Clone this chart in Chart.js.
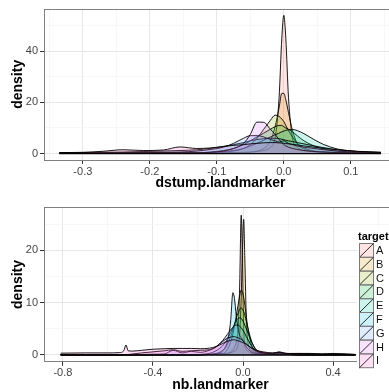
<!DOCTYPE html>
<html>
<head>
<meta charset="utf-8">
<script src="https://cdn.jsdelivr.net/npm/chart.js@4.4.1/dist/chart.umd.min.js"></script>
<style>
body { margin: 0; width: 389px; height: 392px; overflow: hidden; background: #fff; }
canvas { position: absolute; left: 0; }
#top { top: 0; }
#bottom { top: 195px; }
</style>
</head>
<body>
<canvas id="top" width="397" height="195"></canvas>
<canvas id="bottom" width="397" height="197"></canvas>
<script>
var targets = ['A', 'B', 'C', 'D', 'E', 'F', 'G', 'H', 'I'];
var colori = ['#F8766D', '#D39200', '#93AA00', '#00BA38', '#00C19F', '#00B9E3', '#619CFF', '#DB72FB', '#FF61C3'];

// pannello sopra: dstump.landmarker
var xDstump = [-0.335, -0.3, -0.27, -0.24, -0.21, -0.18, -0.155, -0.13, -0.11, -0.09, -0.075, -0.06, -0.05, -0.04, -0.03, -0.02, -0.013, -0.007, -0.003, 0, 0.003, 0.007, 0.013, 0.02, 0.03, 0.045, 0.06, 0.08, 0.11, 0.145];
var dstumpA = [0.1, 0.1, 0.1, 0.15, 0.15, 0.2, 0.2, 0.2, 0.25, 0.3, 0.35, 0.4, 0.5, 0.8, 1.2, 2.5, 6, 22, 45, 54, 45, 22, 6, 2.5, 1.2, 0.7, 0.4, 0.3, 0.2, 0.1];
var dstumpB = [0.1, 0.1, 0.15, 0.2, 0.2, 0.2, 0.25, 0.3, 0.3, 0.35, 0.4, 0.5, 0.6, 1, 2, 5, 10.5, 18, 23.5, 23.5, 21, 16, 9, 4, 1.8, 0.9, 0.6, 0.4, 0.3, 0.2];
var dstumpC = [0.1, 0.1, 0.1, 0.1, 0.15, 0.2, 0.2, 0.25, 0.35, 0.5, 1, 2, 3.5, 6, 9.5, 13, 15, 14.5, 13.5, 12.5, 11, 9, 6.5, 4, 2.2, 1, 0.6, 0.3, 0.2, 0.1];
var dstumpD = [0.1, 0.1, 0.1, 0.15, 0.15, 0.2, 0.25, 0.3, 0.6, 1.2, 2, 3.5, 5, 6.5, 8, 9.5, 10.5, 11, 11, 10.5, 10, 9.5, 8.5, 7, 5, 3, 1.8, 0.9, 0.4, 0.2];
var dstumpE = [0.1, 0.1, 0.1, 0.15, 0.15, 0.2, 0.25, 0.3, 0.4, 0.8, 1.2, 2, 3, 4, 5.2, 6.5, 7.3, 8, 8.5, 8.8, 9.1, 9.3, 9.4, 9, 7.8, 5.5, 3.5, 1.8, 0.8, 0.4];
var dstumpF = [0.3, 0.4, 0.5, 0.6, 0.8, 1, 1.2, 1.5, 2, 2.8, 3.5, 4.3, 5, 5.5, 5.8, 6, 6, 5.8, 5.6, 5.4, 5.2, 5, 4.7, 4.3, 3.8, 3, 2.3, 1.5, 0.8, 0.5];
var dstumpG = [0.2, 0.2, 0.3, 0.3, 0.4, 0.5, 0.6, 1, 1.6, 2.5, 4, 6, 7, 7, 6.5, 5.5, 5, 4.5, 4.8, 5, 4.6, 4, 3.5, 3, 2.5, 2, 1.5, 1, 0.6, 0.3];
var dstumpH = [0.1, 0.1, 0.1, 0.15, 0.15, 0.2, 0.25, 0.3, 0.5, 1, 2, 4, 7.5, 12.3, 12.2, 9.5, 7.5, 5.5, 4.3, 3.5, 3, 2.5, 2, 1.6, 1.2, 0.8, 0.6, 0.4, 0.3, 0.2];
var dstumpI = [0.4, 0.5, 0.9, 1.5, 1.2, 1.4, 2.6, 2, 2.2, 2.8, 3.2, 3.5, 3.8, 4, 4.2, 4.3, 4.3, 4.2, 4.1, 4, 3.9, 3.8, 3.6, 3.4, 3, 2.5, 2, 1.5, 0.9, 0.5];
var dstumpMajorX = [-0.3, -0.2, -0.1, 0, 0.1];
var dstumpMinorX = [-0.35, -0.25, -0.15, -0.05, 0.05, 0.15];
var dstumpMajorY = [0, 20, 40];
var dstumpMinorY = [10, 30, 50];

// pannello sotto: nb.landmarker
var xNb = [-0.81, -0.7, -0.6, -0.55, -0.53, -0.52, -0.51, -0.49, -0.45, -0.4, -0.35, -0.31, -0.27, -0.23, -0.19, -0.15, -0.12, -0.09, -0.07, -0.055, -0.045, -0.038, -0.03, -0.022, -0.015, -0.008, -0.003, 0.003, 0.008, 0.015, 0.025, 0.04, 0.06, 0.09, 0.13, 0.16, 0.2, 0.25, 0.3, 0.35, 0.4, 0.46, 0.5];
var nbA = [0.05, 0.05, 0.05, 0.05, 0.05, 0.05, 0.05, 0.05, 0.05, 0.05, 0.05, 0.05, 0.05, 0.05, 0.05, 0.1, 0.1, 0.2, 0.3, 0.6, 1, 1.5, 2.5, 5, 13, 26.7, 19, 5, 2, 1, 0.6, 0.3, 0.2, 0.1, 0.1, 0.1, 0.1, 0.05, 0.05, 0.05, 0.05, 0.05, 0.05];
var nbB = [0.05, 0.05, 0.05, 0.05, 0.05, 0.05, 0.05, 0.05, 0.05, 0.05, 0.05, 0.05, 0.05, 0.05, 0.05, 0.1, 0.1, 0.2, 0.3, 0.4, 0.6, 0.8, 1, 2, 4, 11, 19.5, 25.9, 18.5, 6.5, 1.8, 0.8, 0.4, 0.2, 0.1, 0.2, 0.1, 0.05, 0.05, 0.05, 0.05, 0.05, 0.05];
var nbC = [0.05, 0.05, 0.05, 0.05, 0.05, 0.05, 0.05, 0.05, 0.05, 0.05, 0.05, 0.05, 0.05, 0.05, 0.05, 0.1, 0.2, 0.3, 1, 2.5, 4, 5.5, 7.5, 9.5, 11.3, 12.4, 12.1, 11, 9.5, 7.2, 4.2, 1.6, 0.5, 0.2, 0.1, 0.1, 0.1, 0.05, 0.05, 0.05, 0.05, 0.05, 0.05];
var nbD = [0.05, 0.05, 0.05, 0.05, 0.05, 0.05, 0.05, 0.05, 0.05, 0.05, 0.05, 0.05, 0.05, 0.05, 0.1, 0.15, 0.3, 0.9, 2, 3.5, 4.8, 5.8, 7, 8, 8.7, 9, 8.8, 8.3, 7.6, 6.4, 4.6, 2.4, 0.9, 0.3, 0.2, 0.2, 0.1, 0.05, 0.05, 0.05, 0.05, 0.05, 0.05];
var nbE = [0.05, 0.05, 0.05, 0.05, 0.05, 0.05, 0.05, 0.05, 0.05, 0.05, 0.05, 0.05, 0.05, 0.05, 0.1, 0.3, 0.8, 1.8, 3, 4.3, 5.2, 5.9, 6.5, 7, 7.1, 7, 6.7, 6.2, 5.7, 5, 3.9, 2.3, 1, 0.4, 0.2, 0.2, 0.1, 0.05, 0.05, 0.05, 0.05, 0.05, 0.05];
var nbF = [0.05, 0.05, 0.05, 0.05, 0.05, 0.05, 0.05, 0.05, 0.05, 0.05, 0.05, 0.05, 0.05, 0.05, 0.05, 0.1, 0.2, 0.8, 2.5, 6.5, 11.9, 10.8, 7.5, 5, 3.8, 3.3, 3, 2.5, 2, 1.5, 1, 0.5, 0.3, 0.2, 0.1, 0.1, 0.1, 0.05, 0.05, 0.05, 0.05, 0.05, 0.05];
var nbG = [0.05, 0.05, 0.05, 0.05, 0.05, 0.05, 0.05, 0.05, 0.1, 0.15, 0.2, 0.9, 0.4, 0.7, 0.5, 0.9, 1.5, 2.8, 3.9, 4.8, 5.3, 5.6, 5.7, 5.7, 5.5, 5.2, 4.9, 4.5, 4.1, 3.5, 2.7, 1.6, 0.8, 0.4, 0.3, 0.6, 0.2, 0.3, 0.3, 0.2, 0.3, 0.2, 0.1];
var nbH = [0.05, 0.05, 0.05, 0.05, 0.05, 0.05, 0.1, 0.2, 0.4, 0.6, 0.8, 1, 0.7, 0.8, 0.9, 1, 1.6, 2.6, 3.2, 3.4, 3.5, 3.5, 3.4, 3.3, 3.1, 3, 2.8, 2.6, 2.4, 2.1, 1.7, 1.2, 0.7, 0.4, 0.3, 0.4, 0.2, 0.2, 0.2, 0.1, 0.1, 0.1, 0.05];
var nbI = [0.35, 0.4, 0.4, 0.45, 0.8, 1.9, 0.8, 0.75, 0.9, 1.1, 1.2, 1.25, 1.25, 1.25, 1.2, 1.3, 1.6, 2.2, 2.6, 2.8, 2.9, 2.9, 2.8, 2.7, 2.6, 2.5, 2.4, 2.3, 2.2, 2, 1.7, 1.3, 0.9, 0.6, 0.4, 0.5, 0.3, 0.3, 0.2, 0.2, 0.2, 0.15, 0.1];
var nbMajorX = [-0.8, -0.4, 0, 0.4];
var nbMinorX = [-0.6, -0.2, 0.2, 0.6];
var nbMajorY = [0, 10, 20];
var nbMinorY = [5, 15, 25];

var FONT = 'Liberation Sans, Arial, sans-serif';

function trasparente(hex, a) {
    var r = parseInt(hex.substr(1, 2), 16);
    var g = parseInt(hex.substr(3, 2), 16);
    var b = parseInt(hex.substr(5, 2), 16);
    return 'rgba(' + r + ',' + g + ',' + b + ',' + a + ')';
}

function listaTick(major, minor) {
    return major.concat(minor).sort(function (a, b) { return a - b; }).map(function (v) { return {value: v}; });
}

function assi(major, minor) {
    return {
        color: function (c) { return c.tick && major.indexOf(c.tick.value) >= 0 ? '#e6e6e6' : '#f4f4f4'; },
        lineWidth: function (c) { return c.tick && major.indexOf(c.tick.value) >= 0 ? 1 : 0.7; },
        tickColor: function (c) { return c.tick && major.indexOf(c.tick.value) >= 0 ? '#333' : 'rgba(0,0,0,0)'; },
        tickLength: 4
    };
}

// bordo del pannello, linea di base e legenda
var decorazioni = {
    id: 'decorazioni',
    afterDatasetsDraw: function (chart) {
        var ctx = chart.ctx;
        var y0 = chart.scales.y.getPixelForValue(0);
        var meta = chart.getDatasetMeta(0);
        var pts = meta.data;
        ctx.save();
        ctx.strokeStyle = '#000';
        ctx.lineWidth = 1.3;
        ctx.beginPath();
        ctx.moveTo(pts[0].x, y0);
        ctx.lineTo(pts[pts.length - 1].x, y0);
        ctx.stroke();
        ctx.restore();
    },
    afterDraw: function (chart, args, opts) {
        var ctx = chart.ctx;
        var a = chart.chartArea;
        ctx.save();
        ctx.strokeStyle = '#808080';
        ctx.lineWidth = 1;
        ctx.strokeRect(Math.round(a.left) + 0.5, Math.round(a.top) + 0.5, Math.round(a.right - a.left), Math.round(a.bottom - a.top));

        if (opts.legenda) {
            ctx.fillStyle = '#fff';
            ctx.fillRect(357, 33, 40, 142);
            ctx.fillStyle = '#000';
            ctx.font = 'bold 11px ' + FONT;
            ctx.textBaseline = 'middle';
            ctx.textAlign = 'left';
            ctx.fillText('target', 358, 42);
            var h = 13.8;
            for (var i = 0; i < targets.length; i++) {
                var ky = 48.5 + i * h;
                ctx.fillStyle = trasparente(colori[i], 0.2);
                ctx.fillRect(359.5, ky, 14, h);
                ctx.strokeStyle = '#7a7a7a';
                ctx.lineWidth = 1;
                ctx.strokeRect(359.5, ky, 14, h);
                ctx.strokeStyle = '#000';
                ctx.lineWidth = 0.8;
                ctx.beginPath();
                ctx.moveTo(359.5, ky + h);
                ctx.lineTo(373.5, ky);
                ctx.stroke();
                ctx.fillStyle = '#111';
                ctx.font = '11px ' + FONT;
                ctx.fillText(targets[i], 376, ky + h / 2 + 0.5);
            }
        }
        ctx.restore();
    }
};

function grafico(id, xs, dens, cfg) {
    var datasets = targets.map(function (t, i) {
        return {
            label: t,
            data: xs.map(function (x, j) { return {x: x, y: dens[i][j]}; }),
            backgroundColor: trasparente(colori[i], 0.2),
            borderColor: '#000',
            borderWidth: 0.9,
            fill: 'origin',
            pointRadius: 0,
            cubicInterpolationMode: 'monotone',
            order: targets.length - i
        };
    });

    new Chart(document.getElementById(id), {
        type: 'line',
        data: {datasets: datasets},
        plugins: [decorazioni],
        options: {
            responsive: false,
            animation: false,
            layout: {padding: {top: cfg.top, right: 0, bottom: 0, left: 0}},
            plugins: {
                legend: {display: false},
                tooltip: {enabled: false},
                decorazioni: {legenda: cfg.legenda}
            },
            scales: {
                x: {
                    type: 'linear',
                    min: cfg.xMin,
                    max: cfg.xMax,
                    afterBuildTicks: function (s) { s.ticks = listaTick(cfg.majorX, cfg.minorX); },
                    afterFit: function (s) { s.height = cfg.altezzaX; },
                    ticks: {
                        autoSkip: false,
                        maxRotation: 0,
                        padding: 1,
                        color: '#444',
                        font: {family: FONT, size: 11},
                        callback: function (v) { return cfg.majorX.indexOf(v) >= 0 ? v.toFixed(1) : ''; }
                    },
                    grid: assi(cfg.majorX, cfg.minorX),
                    border: {display: false},
                    title: {
                        display: true,
                        text: cfg.titoloX,
                        color: '#000',
                        font: {family: FONT, size: 14, weight: 'bold', lineHeight: 1},
                        padding: {top: 0, bottom: cfg.padTitolo}
                    }
                },
                y: {
                    min: cfg.yMin,
                    max: cfg.yMax,
                    afterBuildTicks: function (s) { s.ticks = listaTick(cfg.majorY, cfg.minorY); },
                    afterFit: function (s) { s.width = 44; },
                    ticks: {
                        autoSkip: false,
                        padding: 2,
                        color: '#444',
                        font: {family: FONT, size: 11},
                        callback: function (v) { return cfg.majorY.indexOf(v) >= 0 ? String(v) : ''; }
                    },
                    grid: assi(cfg.majorY, cfg.minorY),
                    border: {display: false},
                    title: {
                        display: true,
                        text: 'density',
                        color: '#000',
                        font: {family: FONT, size: 14, weight: 'bold', lineHeight: 1},
                        padding: {top: 11.5, bottom: 0}
                    }
                }
            }
        }
    });
}

grafico('top', xDstump, [dstumpA, dstumpB, dstumpC, dstumpD, dstumpE, dstumpF, dstumpG, dstumpH, dstumpI], {
    top: 5.5, altezzaX: 35, padTitolo: 5,
    xMin: -0.358, xMax: 0.169, yMin: -2.5, yMax: 56.6,
    majorX: dstumpMajorX, minorX: dstumpMinorX, majorY: dstumpMajorY, minorY: dstumpMinorY,
    titoloX: 'dstump.landmarker', legenda: false
});

grafico('bottom', xNb, [nbA, nbB, nbC, nbD, nbE, nbF, nbG, nbH, nbI], {
    top: 12.3, altezzaX: 30.3, padTitolo: 0,
    xMin: -0.884, xMax: 0.684, yMin: -1.28, yMax: 28.2,
    majorX: nbMajorX, minorX: nbMinorX, majorY: nbMajorY, minorY: nbMinorY,
    titoloX: 'nb.landmarker', legenda: true
});
</script>
</body>
</html>
